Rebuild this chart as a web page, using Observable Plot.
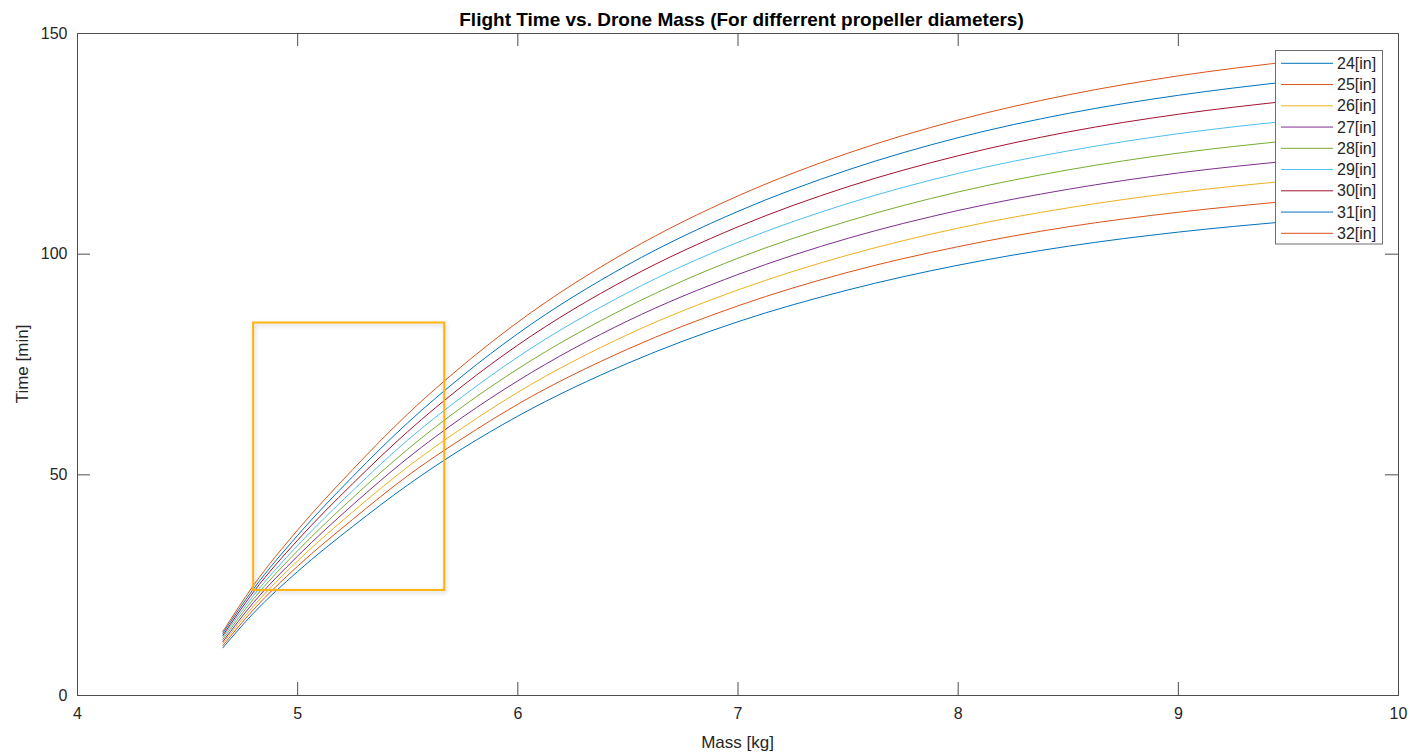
<!DOCTYPE html>
<html><head><meta charset="utf-8">
<script src="https://cdn.jsdelivr.net/npm/d3@7"></script>
<script src="https://cdn.jsdelivr.net/npm/@observablehq/plot@0.6"></script>
<style>
body{margin:0;background:#fff;}
#chart{width:1412px;height:753px;}
</style></head><body><div id="chart"></div>
<script>
// ---- data ----
const mass = [4.66, 4.8, 5.0, 5.25, 5.5, 5.75, 6.0, 6.5, 7.0, 7.5, 8.0, 8.5, 9.0, 9.5];
const diameters = ["24[in]","25[in]","26[in]","27[in]","28[in]","29[in]","30[in]","31[in]","32[in]"];
const time24 = [10.8, 18.7, 28.1, 38.3, 47.7, 56.0, 63.3, 75.3, 84.7, 91.9, 97.5, 101.8, 105.0, 107.4];
const time25 = [11.3, 19.5, 29.3, 39.9, 49.8, 58.3, 66.0, 78.5, 88.3, 95.9, 101.7, 106.2, 109.5, 112.0];
const time26 = [11.8, 20.3, 30.5, 41.6, 51.8, 60.7, 68.7, 81.8, 91.9, 99.8, 105.9, 110.5, 114.0, 116.6];
const time27 = [12.2, 21.1, 31.6, 43.2, 53.8, 63.1, 71.3, 84.9, 95.4, 103.6, 109.9, 114.7, 118.4, 121.1];
const time28 = [12.7, 21.9, 32.8, 44.8, 55.8, 65.5, 74.0, 88.1, 99.1, 107.5, 114.1, 119.1, 122.9, 125.7];
const time29 = [13.2, 22.7, 34.0, 46.4, 57.9, 67.8, 76.7, 91.3, 102.7, 111.5, 118.3, 123.4, 127.3, 130.2];
const time30 = [13.6, 23.5, 35.2, 48.0, 59.8, 70.2, 79.4, 94.5, 106.2, 115.3, 122.3, 127.7, 131.7, 134.7];
const time31 = [14.1, 24.2, 36.3, 49.6, 61.8, 72.5, 82.0, 97.6, 109.7, 119.1, 126.4, 131.9, 136.0, 139.1];
const time32 = [14.5, 25.0, 37.5, 51.2, 63.8, 74.8, 84.6, 100.7, 113.2, 122.9, 130.4, 136.1, 140.4, 143.6];
const xTicks = [4, 5, 6, 7, 8, 9, 10];
const yTicks = [0, 50, 100, 150];
const highlight = [{x1: 4.8, x2: 5.668, y1: 23.8, y2: 84.4}];
const colors = ["#0072BD","#D95319","#EDB120","#7E2F8E","#77AC30","#4DBEEE","#A2142F","#0072BD","#D95319"];

const titleText = "Flight Time vs. Drone Mass (For differrent propeller diameters)";
const xLabel = "Mass [kg]";
const yLabel = "Time [min]";

const series = [time24, time25, time26, time27, time28, time29, time30, time31, time32];
const rows = [];
series.forEach((vals, i) => vals.forEach((v, j) => rows.push({diameter: diameters[i], mass: mass[j], time: v})));

// ---- layout ----
const W = 1412, H = 753, mL = 77, mR = 14, mT = 33, mB = 58;
const pw = W - mL - mR, ph = H - mT - mB, tick = 13;
const font = "'Liberation Sans', Arial, Helvetica, sans-serif";
const axisColor = "#4d4d4d";

const plot = Plot.plot({
  width: W, height: H,
  marginLeft: mL, marginRight: mR, marginTop: mT, marginBottom: mB,
  x: {domain: [4, 10]},
  y: {domain: [0, 150]},
  color: {domain: diameters, range: colors},
  style: {fontFamily: font, fontSize: "16px", color: "#262626", background: "#fff"},
  marks: [
    Plot.line(rows, {x: "mass", y: "time", z: "diameter", stroke: "diameter", strokeWidth: 1, curve: "monotone-x"}),
    Plot.rect(highlight, {x1: "x1", x2: "x2", y1: "y1", y2: "y2", fill: "none", stroke: "#FFB30F", strokeWidth: 2}),
    Plot.frame({stroke: axisColor, strokeWidth: 1}),
    Plot.tickX(xTicks, {x: d => d, stroke: axisColor, insetTop: ph - tick}),
    Plot.tickX(xTicks, {x: d => d, stroke: axisColor, insetBottom: ph - tick}),
    Plot.tickY(yTicks, {y: d => d, stroke: axisColor, insetRight: pw - tick}),
    Plot.tickY(yTicks, {y: d => d, stroke: axisColor, insetLeft: pw - tick}),
    Plot.axisX({ticks: xTicks, tickFormat: d3.format("d"), tickSize: 0, tickPadding: 12, label: null, fontSize: 16, fill: "#262626"}),
    Plot.axisY({ticks: yTicks, tickFormat: d3.format("d"), tickSize: 0, tickPadding: 10, label: null, fontSize: 16, fill: "#262626"})
  ]
});
document.getElementById("chart").appendChild(plot);

const svg = d3.select(plot);
svg.selectAll('g[aria-label="rect"] rect').style("filter", "drop-shadow(1px 2px 2px rgba(0,0,0,0.2))");

// title and axis labels
svg.append("text").attr("x", mL + pw / 2 + 4).attr("y", 26).attr("text-anchor", "middle")
  .attr("font-family", font).attr("font-size", 19).attr("font-weight", "bold").attr("fill", "#000").text(titleText);
svg.append("text").attr("x", mL + pw / 2).attr("y", 748).attr("text-anchor", "middle")
  .attr("font-family", font).attr("font-size", 17).attr("fill", "#262626").text(xLabel);
svg.append("text").attr("transform", `translate(28,${mT + ph / 2}) rotate(-90)`).attr("text-anchor", "middle")
  .attr("font-family", font).attr("font-size", 17).attr("fill", "#262626").text(yLabel);

// legend
const lg = svg.append("g").attr("text-anchor", "start");
const lx = 1275.5, ly = 50.5, lw = 107, lh = 193.5, rowH = 21.25, row0 = 63.3;
lg.append("rect").attr("x", lx).attr("y", ly).attr("width", lw).attr("height", lh)
  .attr("fill", "#fff").attr("stroke", "#6e6e6e").attr("stroke-width", 1);
diameters.forEach((d, i) => {
  const y = row0 + i * rowH;
  lg.append("line").attr("x1", 1281).attr("x2", 1333).attr("y1", y).attr("y2", y)
    .attr("stroke", colors[i]).attr("stroke-width", 1);
  lg.append("text").attr("x", 1337).attr("y", y).attr("dy", "0.35em").attr("text-anchor", "start")
    .attr("font-family", font).attr("font-size", 16).attr("fill", "#262626").text(d);
});
</script></body></html>
